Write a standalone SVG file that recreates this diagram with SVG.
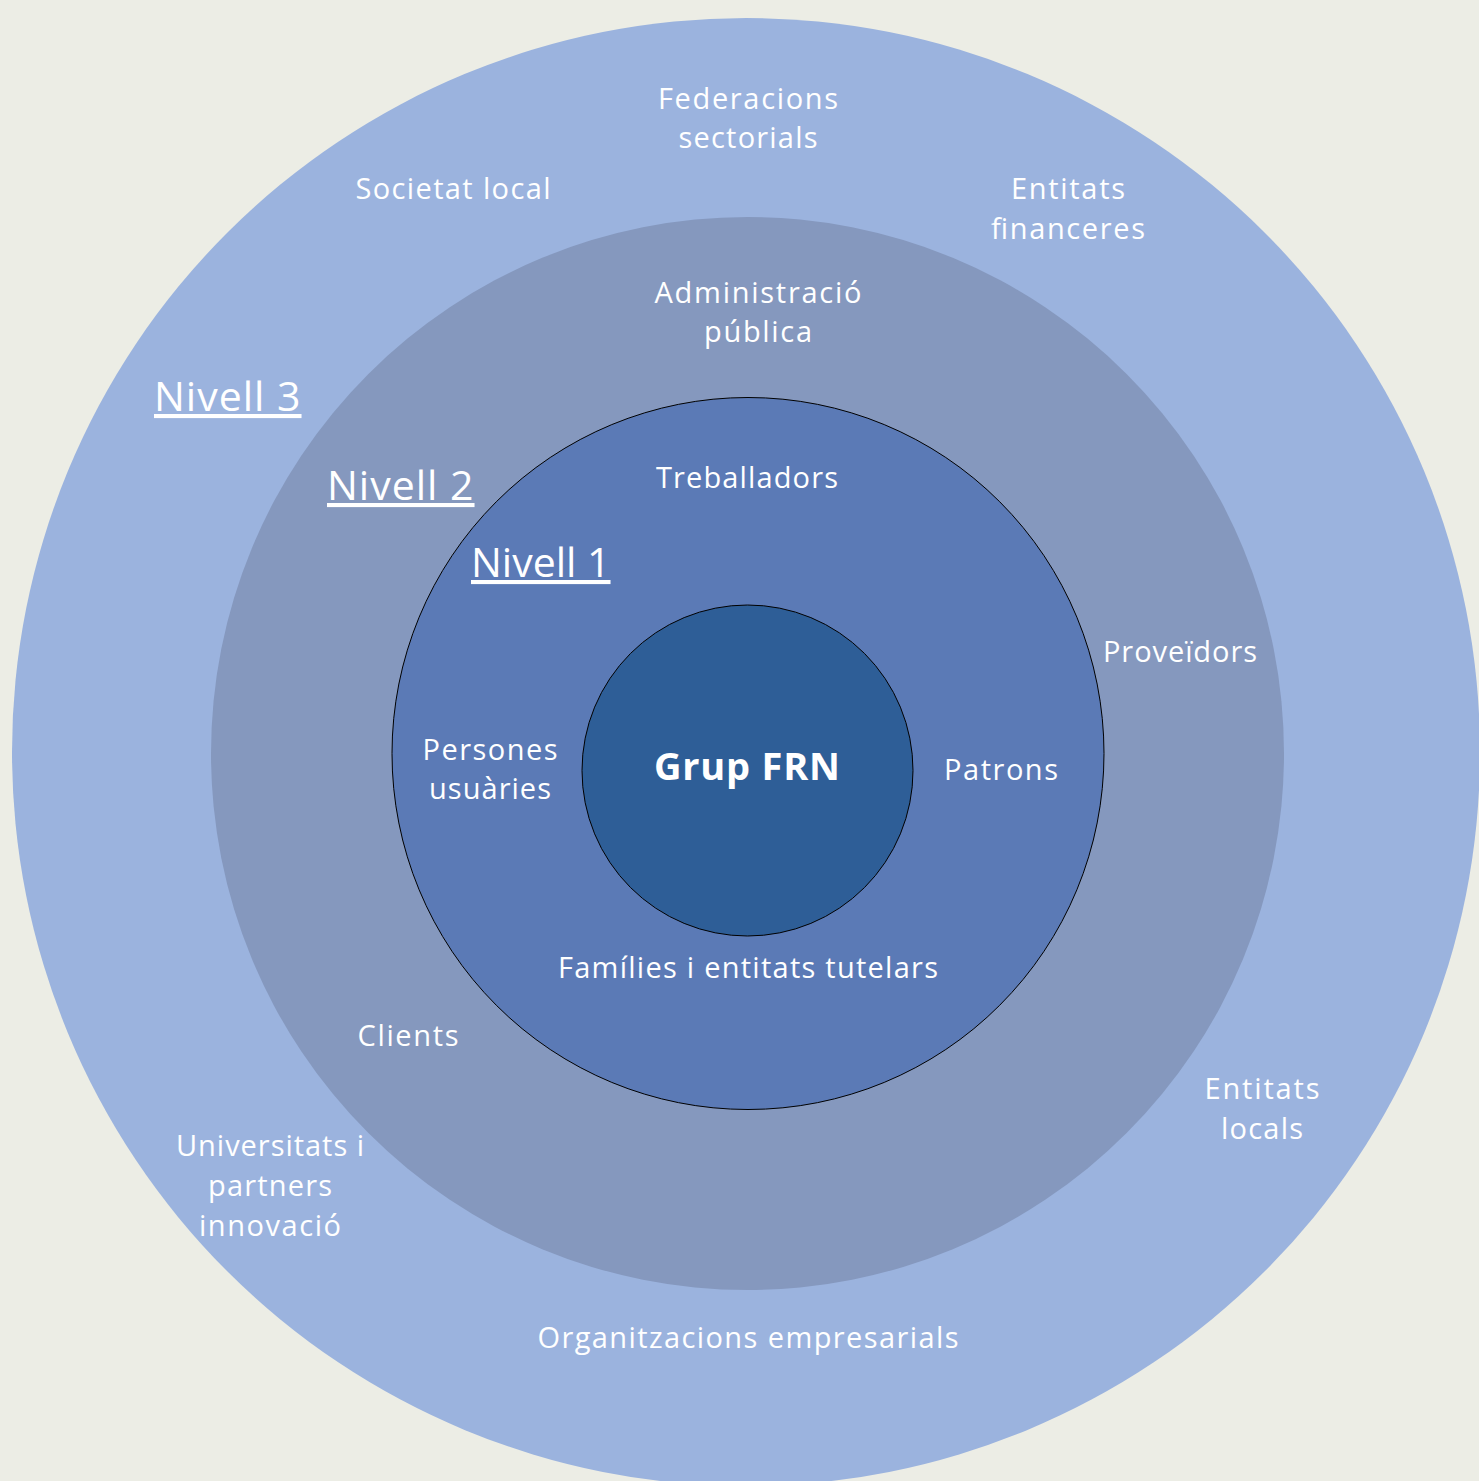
<svg xmlns="http://www.w3.org/2000/svg" width="1479" height="1481" viewBox="0 0 1479 1481">
<style>
.t{font-family:"Open Sans","Liberation Sans",sans-serif;font-size:29px;fill:#ffffff;text-anchor:middle}
.lv{font-family:"Open Sans","Liberation Sans",sans-serif;font-size:41px;fill:#ffffff;text-decoration:underline}
.b{font-family:"Open Sans","Liberation Sans",sans-serif;font-size:38px;font-weight:bold;fill:#ffffff;text-anchor:middle}
</style>
<rect width="1479" height="1481" fill="#ECEDE5"/>
<g id="nivell3">
<circle cx="746" cy="752" r="734" fill="#9BB3DE"/>
<text class="lv" x="154" y="411" letter-spacing="1">Nivell 3</text>
<text class="t" x="748" y="109" textLength="180">Federacions</text>
<text class="t" x="748" y="148" textLength="139">sectorials</text>
<text class="t" x="453" y="199" textLength="195">Societat local</text>
<text class="t" x="1068" y="199" textLength="114">Entitats</text>
<text class="t" x="1068" y="239" textLength="154">financeres</text>
<text class="t" x="1262" y="1099" textLength="115">Entitats</text>
<text class="t" x="1262" y="1139" textLength="82">locals</text>
<text class="t" x="270" y="1156" textLength="188">Universitats i</text>
<text class="t" x="270" y="1196" textLength="124">partners</text>
<text class="t" x="270" y="1236" textLength="142">innovació</text>
<text class="t" x="748" y="1348" textLength="421">Organitzacions empresarials</text>
</g>
<g id="nivell2">
<circle cx="747.5" cy="753.5" r="536.5" fill="#8598BE"/>
<text class="lv" x="327" y="500" letter-spacing="1">Nivell 2</text>
<text class="t" x="758" y="303" textLength="207">Administració</text>
<text class="t" x="758" y="342" textLength="108">pública</text>
<text class="t" x="1180" y="662" textLength="154">Proveïdors</text>
<text class="t" x="408" y="1046" textLength="101">Clients</text>
</g>
<g id="nivell1">
<circle cx="748" cy="753.5" r="356" fill="#5B7AB6" stroke="#000" stroke-width="1"/>
<text class="lv" x="471" y="577">Nivell 1</text>
<text class="t" x="747" y="488" textLength="182">Treballadors</text>
<text class="t" x="490" y="760" textLength="135">Persones</text>
<text class="t" x="490" y="799" textLength="122">usuàries</text>
<text class="t" x="1001" y="780" textLength="114">Patrons</text>
<text class="t" x="748" y="978" textLength="380">Famílies i entitats tutelars</text>
</g>
<g id="grup-frn">
<circle cx="747.5" cy="770.5" r="165.5" fill="#2E5E97" stroke="#000" stroke-width="1"/>
<text class="b" x="747" y="780" textLength="186">Grup FRN</text>
</g>
<g id="connectors"/>
</svg>
